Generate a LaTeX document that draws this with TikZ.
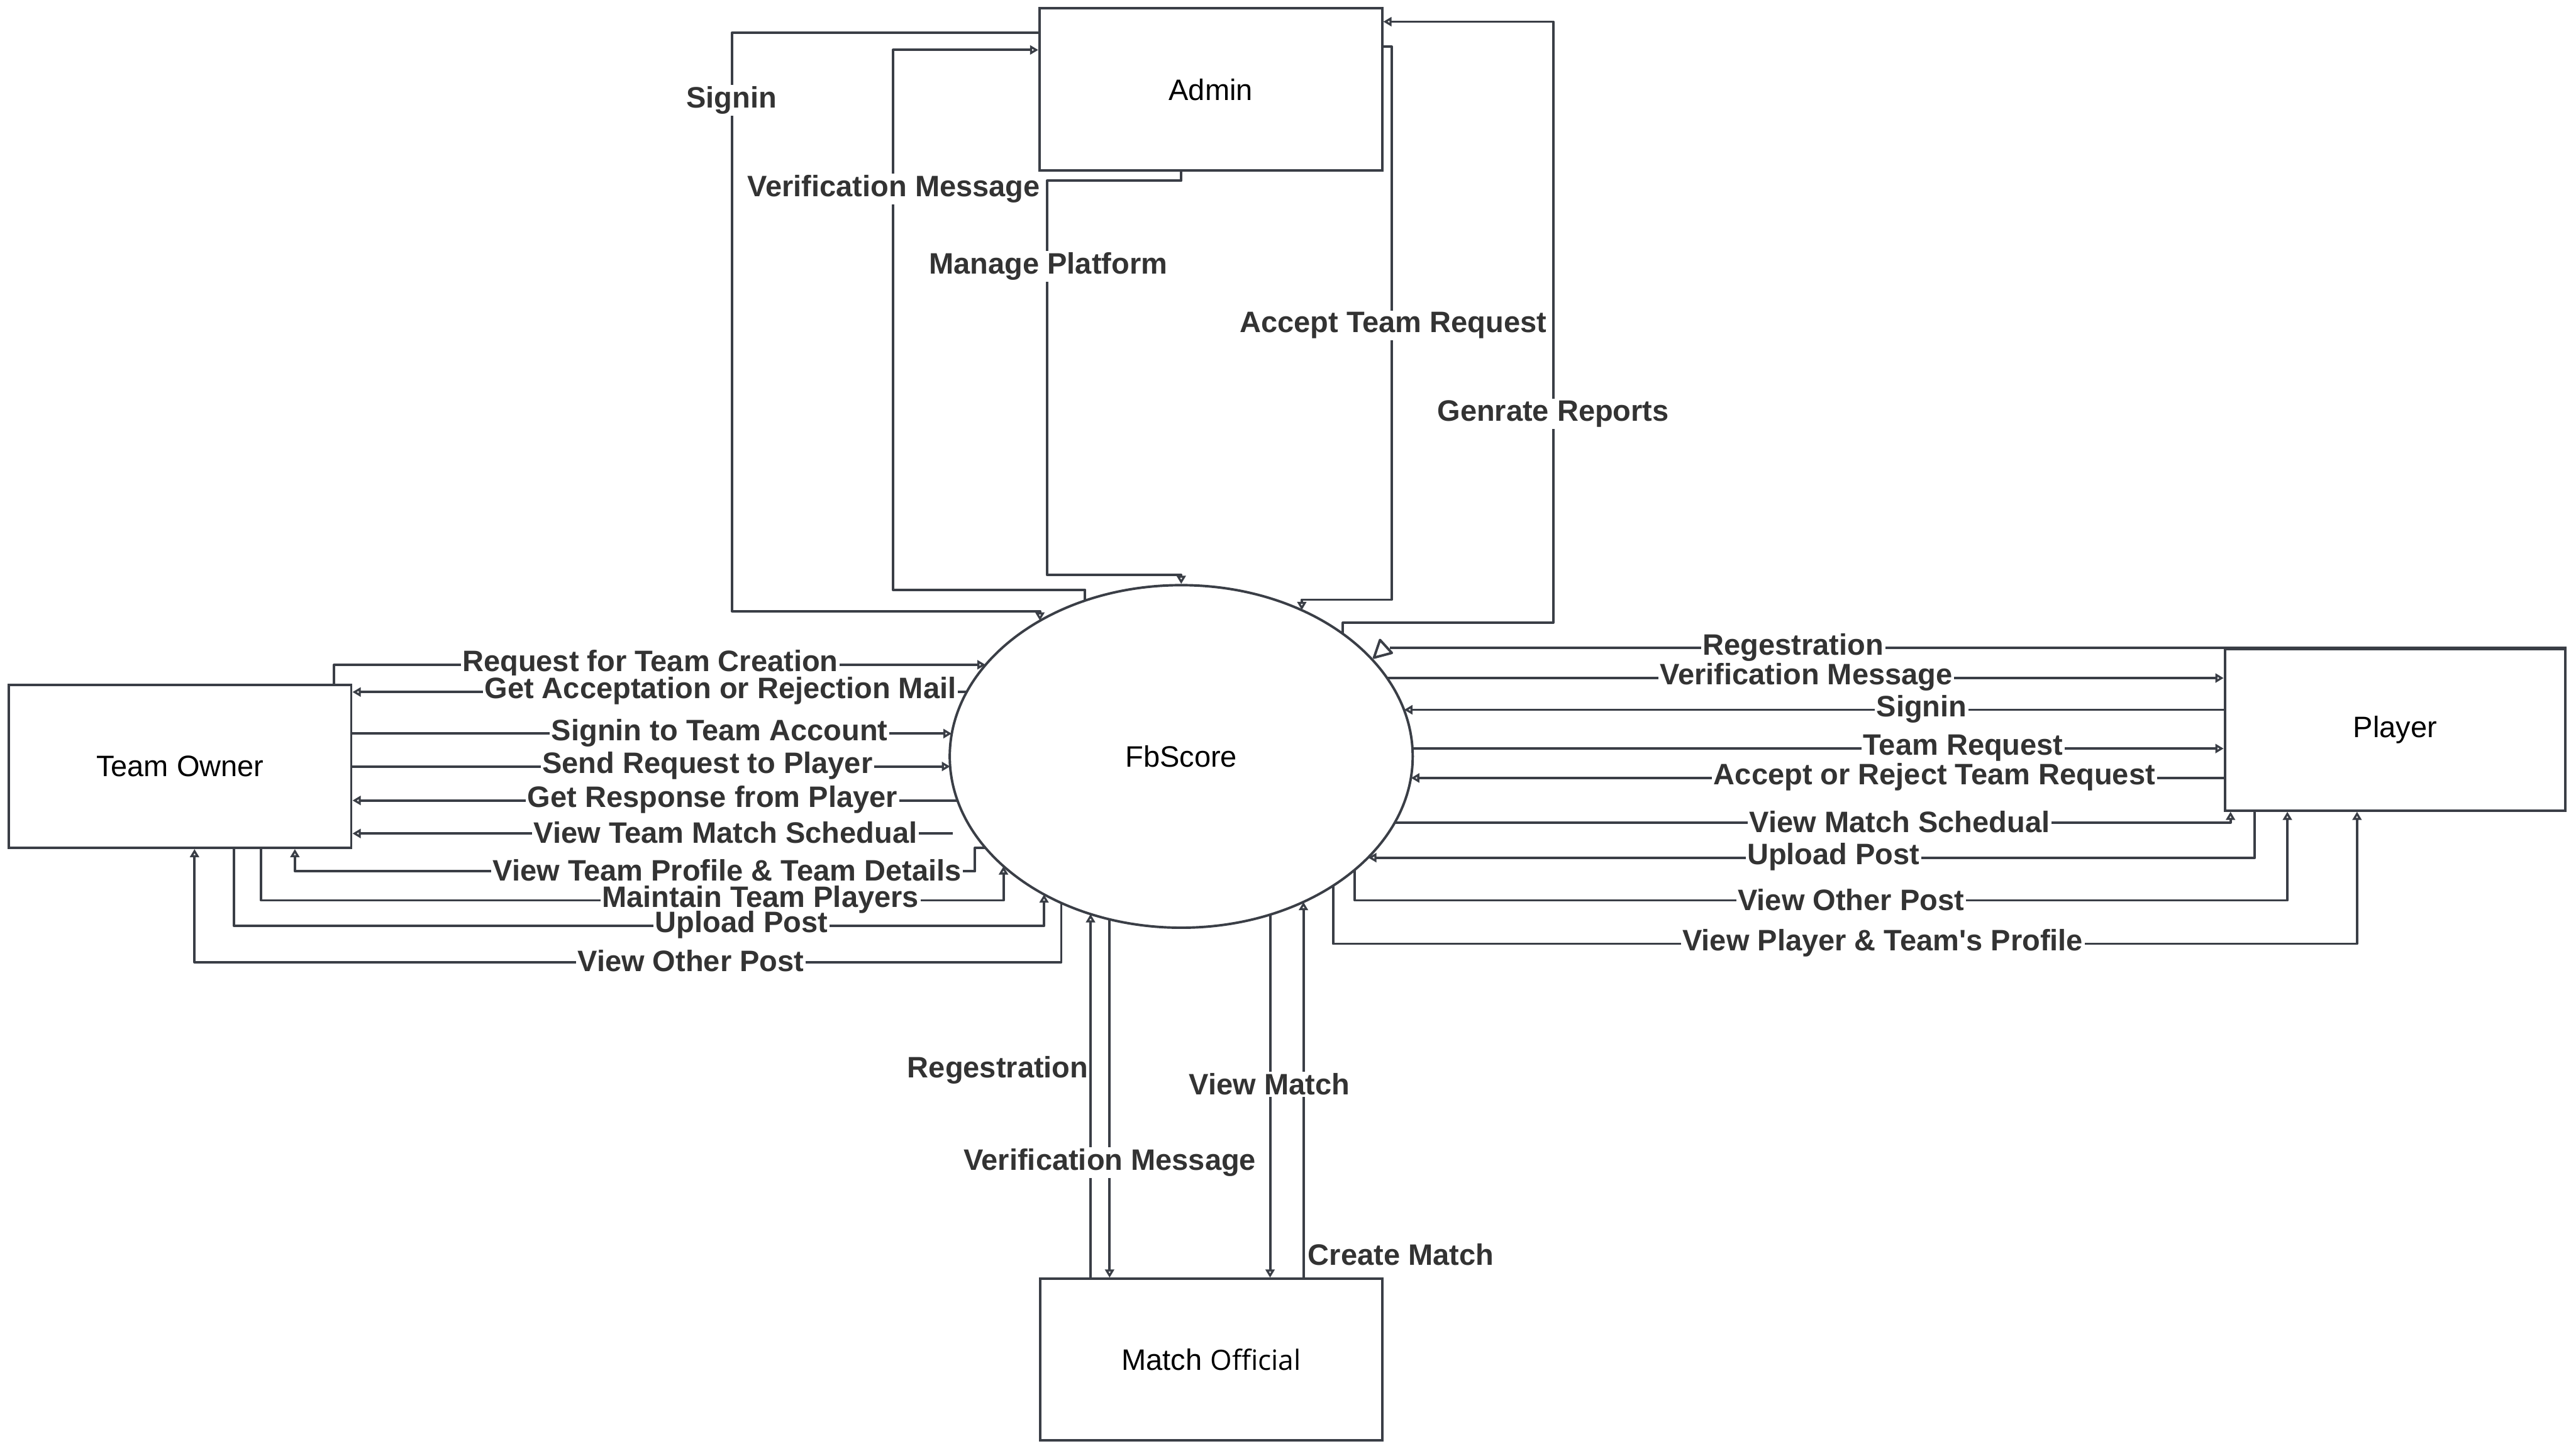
\documentclass[tikz,border=0pt]{standalone}
\usepackage{fontspec}
\setmainfont{Liberation Sans}
\newfontfamily\osans{Open Sans}
\usetikzlibrary{arrows.meta,shapes.geometric}
\definecolor{lc}{RGB}{58,62,70}
\definecolor{tc}{RGB}{51,51,51}
\begin{document}
\begin{tikzpicture}[x=1pt,y=-1pt,
  ln/.style={draw=lc,line width=1.5pt,line join=round},
  ar/.style={ln,-{Triangle[open,length=5pt,width=5.5pt]}},
  lab/.style={fill=white,inner sep=1pt,text=tc,font=\bfseries\fontsize{18}{21}\selectfont},
  box/.style={draw=lc,line width=1.5pt,fill=white,inner sep=0pt,text=black,font=\fontsize{18}{21}\selectfont}]
\fill[white] (0,0) rectangle (1568,883);
\useasboundingbox (0,0) rectangle (1568,883);

% nodes
\node[box,minimum width=208.5pt,minimum height=98.7pt] (admin) at (737,54.5) {Admin};
\node[box,minimum width=208.4pt,minimum height=99pt] (owner) at (109.6,466.5) {Team Owner};
\node[box,minimum width=207.3pt,minimum height=98.2pt] (player) at (1457.9,444.2) {Player};
\node[box,minimum width=208.3pt,minimum height=98.2pt] (official) at (737.3,827.5) {Match {\osans\fontsize{17}{20}\selectfont Official}};
\node[box,ellipse,minimum width=281.8pt,minimum height=208.5pt] (fb) at (719,460.4) {FbScore};

% Admin connectors
\draw[ar] (admin.west |- 0,20) -- (445.6,20) -- (445.6,372) -- (633,372) -- (633,377.7);
\draw[ar] (660.5,365.5) -- (660.5,359) -- (543.6,359) -- (543.6,30.4) -- (admin.west |- 0,30.4);
\draw[ar] (admin.south -| 719,0) -- (719,110) -- (637.4,110) -- (637.4,350) -- (719,350) -- (fb.north);
\draw[ar] (admin.east |- 0,28.4) -- (847,28.4) -- (847,365) -- (792.4,365) -- (792.4,371.3);
\draw[ar] (817.4,385.7) -- (817.4,379) -- (945.4,379) -- (945.4,13.2) -- (admin.east |- 0,13.2);

% Team Owner connectors
\draw[ar] (owner.north -| 203.4,0) -- (203.4,404.6) -- (599.9,404.6);
\draw[ar] (588.3,421.2) -- (owner.east |- 0,421.2);
\draw[ar] (owner.east |- 0,446.5) -- (579.3,446.5);
\draw[ar] (owner.east |- 0,466.5) -- (578.3,466.5);
\draw[ar] (582.7,487.2) -- (owner.east |- 0,487.2);
\draw[ar] (580,507.3) -- (owner.east |- 0,507.3);
\draw[ar] (599.7,516) -- (593.5,516) -- (593.5,530.3) -- (179.5,530.3) -- (owner.south -| 179.5,0);
\draw[ar] (owner.south -| 158.9,0) -- (158.9,548) -- (610.8,548) -- (610.8,527.3);
\draw[ar] (owner.south -| 142.4,0) -- (142.4,563.5) -- (635.5,563.5) -- (635.5,544.4);
\draw[ar] (646,549.6) -- (646,585.6) -- (118.4,585.6) -- (owner.south -| 118.4,0);

% Player connectors
\draw[ln] (player.north east) -- (player.north east -| 846,0);
\draw[ln,fill=white] (836.3,400.3) -- (840,389.5) -- (847.2,397.4) -- cycle;
\draw[ar] (844.4,412.7) -- (player.west |- 0,412.7);
\draw[ar] (player.west |- 0,432) -- (854.7,432);
\draw[ar] (859.8,455.6) -- (player.west |- 0,455.6);
\draw[ar] (player.west |- 0,473.5) -- (858.9,473.5);
\draw[ar] (849.1,500.6) -- (1357.7,500.6) -- (player.south -| 1357.7,0);
\draw[ar] (player.south -| 1372.5,0) -- (1372.5,522) -- (832.8,522);
\draw[ar] (824.7,529.4) -- (824.7,548) -- (1392.3,548) -- (player.south -| 1392.3,0);
\draw[ar] (811.4,539.2) -- (811.4,574.4) -- (1434.7,574.4) -- (player.south -| 1434.7,0);

% Match Official connectors
\draw[ar] (official.north -| 663.8,0) -- (663.8,556.4);
\draw[ar] (675.4,559.6) -- (official.north -| 675.4,0);
\draw[ar] (773.1,556.7) -- (official.north -| 773.1,0);
\draw[ar] (official.north -| 793.4,0) -- (793.4,549);

% labels top
\node[lab] (l1) at (445.3,61) {Signin};
\node[lab] (l2) at (544,115) {Verification Message};
\node[lab] (l3) at (638.1,162) {Manage Platform};
\node[lab] (l4) at (848,198) {Accept Team Request};
\node[lab] (l5) at (945.4,252) {Genrate Reports};

% labels left
\node[lab] (t1) at (395.8,404) {Request for Team Creation};
\node[lab] (t2) at (438.5,420.6) {Get Acceptation or Rejection Mail};
\node[lab] (t3) at (438,446) {Signin to Team Account};
\node[lab] (t4) at (430.6,466) {Send Request to Player};
\node[lab] (t5) at (433.7,486.7) {Get Response from Player};
\node[lab] (t6) at (441.6,506.8) {View Team Match Schedual};
\node[lab] (t7) at (442.6,529.6) {View Team Profile \& Team Details};
\node[lab] (t8) at (462.9,547.5) {Maintain Team Players};
\node[lab] (t9) at (451.3,563) {Upload Post};
\node[lab] (t10) at (420.5,585) {View Other Post};

% labels right
\node[lab] (p1) at (1091.5,394.1) {Regestration};
\node[lab] (p2) at (1099.4,412.2) {Verification Message};
\node[lab] (p3) at (1169.7,431.5) {Signin};
\node[lab] (p4) at (1195,455.1) {Team Request};
\node[lab] (p5) at (1177.5,473) {Accept or Reject Team Request};
\node[lab] (p6) at (1156.3,500.1) {View Match Schedual};
\node[lab] (p7) at (1116,521.5) {Upload Post};
\node[lab] (p8) at (1126.7,547.5) {View Other Post};
\node[lab] (p9) at (1146,573.9) {View Player \& Team\textquotesingle s Profile};

% labels bottom
\node[lab,anchor=east,inner xsep=0pt] (m1) at (662.6,651.5) {Regestration};
\node[lab] (m2) at (675.5,707.5) {Verification Message};
\node[lab] (m3) at (772.7,660) {View Match};
\node[lab,anchor=west,inner xsep=0pt] (m4) at (796,763.5) {Create Match};
\end{tikzpicture}
\end{document}
